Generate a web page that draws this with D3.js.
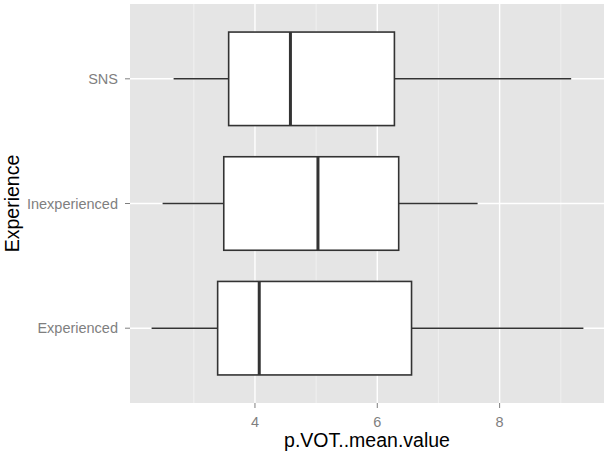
<!DOCTYPE html>
<html>
<head>
<meta charset="utf-8">
<script src="https://cdn.jsdelivr.net/npm/d3@7"></script>
<style>
  html, body { margin: 0; padding: 0; background: #ffffff; }
  svg { display: block; }
  text { font-family: "Liberation Sans", Arial, sans-serif; }
</style>
</head>
<body>
<svg id="chart" width="604" height="451"></svg>
<script>
// Five-number summaries of p.VOT..mean.value per experience group
const categories   = ["Experienced", "Inexperienced", "SNS"];
const whiskerLow   = [2.31, 2.49, 2.67];
const lowerHinge   = [3.39, 3.49, 3.57];
const medianValue  = [4.07, 5.03, 4.58];
const upperHinge   = [6.56, 6.35, 6.28];
const whiskerHigh  = [9.37, 7.64, 9.17];

const xTicks = [4, 6, 8];
const xMinor = [3, 5, 7, 9];

const rows = categories.map((c, i) => ({
  cat: c, lo: whiskerLow[i], q1: lowerHinge[i], med: medianValue[i],
  q3: upperHinge[i], hi: whiskerHigh[i]
}));

const W = 604, H = 451;
const panel = { left: 130, top: 4, right: 605, bottom: 403 };

const svg = d3.select("#chart");

// Continuous x with ggplot-style 5% expansion
const dMin = d3.min(whiskerLow), dMax = d3.max(whiskerHigh);
const pad = (dMax - dMin) * 0.05;
const x = d3.scaleLinear()
  .domain([dMin - pad, dMax + pad])
  .range([panel.left, panel.right]);

// Discrete y: categories at 1..n, expanded by 0.6 on each side
const n = categories.length;
const yPos = d3.scaleLinear()
  .domain([0.4, n + 0.6])
  .range([panel.bottom, panel.top]);
const y = c => yPos(categories.indexOf(c) + 1);
const boxHalf = (yPos(0) - yPos(0.75)) / 2;

// Panel background
svg.append("rect")
  .attr("x", panel.left).attr("y", panel.top)
  .attr("width", panel.right - panel.left)
  .attr("height", panel.bottom - panel.top)
  .attr("fill", "#E5E5E5");

const grid = svg.append("g");
grid.selectAll("line.minor").data(xMinor).join("line")
  .attr("x1", d => x(d)).attr("x2", d => x(d))
  .attr("y1", panel.top).attr("y2", panel.bottom)
  .attr("stroke", "#F2F2F2").attr("stroke-width", 0.8);
grid.selectAll("line.majx").data(xTicks).join("line")
  .attr("x1", d => x(d)).attr("x2", d => x(d))
  .attr("y1", panel.top).attr("y2", panel.bottom)
  .attr("stroke", "#FFFFFF").attr("stroke-width", 1.4);
grid.selectAll("line.majy").data(categories).join("line")
  .attr("x1", panel.left).attr("x2", panel.right)
  .attr("y1", d => y(d)).attr("y2", d => y(d))
  .attr("stroke", "#FFFFFF").attr("stroke-width", 1.4);

// Boxplots
const boxes = svg.append("g");
const g = boxes.selectAll("g").data(rows).join("g");
const lineColor = "#333333";
g.append("line")
  .attr("x1", d => x(d.lo)).attr("x2", d => x(d.q1))
  .attr("y1", d => y(d.cat)).attr("y2", d => y(d.cat))
  .attr("stroke", lineColor).attr("stroke-width", 1.6);
g.append("line")
  .attr("x1", d => x(d.q3)).attr("x2", d => x(d.hi))
  .attr("y1", d => y(d.cat)).attr("y2", d => y(d.cat))
  .attr("stroke", lineColor).attr("stroke-width", 1.6);
g.append("rect")
  .attr("x", d => x(d.q1)).attr("width", d => x(d.q3) - x(d.q1))
  .attr("y", d => y(d.cat) - boxHalf).attr("height", boxHalf * 2)
  .attr("fill", "#FFFFFF").attr("stroke", lineColor).attr("stroke-width", 1.6);
g.append("line")
  .attr("x1", d => x(d.med)).attr("x2", d => x(d.med))
  .attr("y1", d => y(d.cat) - boxHalf).attr("y2", d => y(d.cat) + boxHalf)
  .attr("stroke", lineColor).attr("stroke-width", 3);

// Axes
const tickColor = "#7F7F7F";
const xAxis = svg.append("g");
xAxis.selectAll("line").data(xTicks).join("line")
  .attr("x1", d => x(d)).attr("x2", d => x(d))
  .attr("y1", panel.bottom).attr("y2", panel.bottom + 5)
  .attr("stroke", tickColor).attr("stroke-width", 1);
xAxis.selectAll("text").data(xTicks).join("text")
  .attr("x", d => x(d)).attr("y", panel.bottom + 24)
  .attr("text-anchor", "middle")
  .attr("font-size", 14.5).attr("fill", tickColor)
  .text(d => d);

const yAxis = svg.append("g");
yAxis.selectAll("line").data(categories).join("line")
  .attr("x1", panel.left - 5).attr("x2", panel.left)
  .attr("y1", d => y(d)).attr("y2", d => y(d))
  .attr("stroke", tickColor).attr("stroke-width", 1);
yAxis.selectAll("text").data(categories).join("text")
  .attr("x", panel.left - 12).attr("y", d => y(d))
  .attr("dy", "0.35em")
  .attr("text-anchor", "end")
  .attr("font-size", 14.5).attr("fill", tickColor)
  .text(d => d);

// Axis titles
svg.append("text")
  .attr("x", (panel.left + Math.min(panel.right, W)) / 2).attr("y", 447)
  .attr("text-anchor", "middle")
  .attr("font-size", 19.5).attr("fill", "#000000")
  .text("p.VOT..mean.value");

svg.append("text")
  .attr("transform", `translate(19,${(panel.top + panel.bottom) / 2}) rotate(-90)`)
  .attr("text-anchor", "middle")
  .attr("font-size", 19.5).attr("fill", "#000000")
  .text("Experience");
</script>
</body>
</html>
